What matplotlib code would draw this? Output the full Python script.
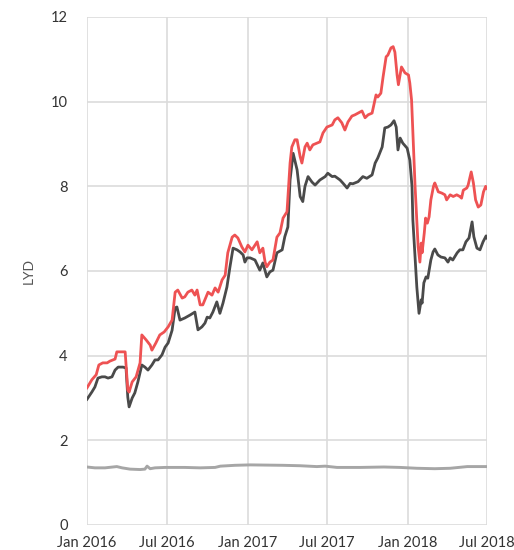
import matplotlib

matplotlib.use("Agg")
import matplotlib.pyplot as plt
import pandas as pd

# values
red_dates = [
    "2016-01-01", "2016-01-12", "2016-01-22", "2016-01-28", "2016-02-06", "2016-02-16",
    "2016-02-22", "2016-03-05", "2016-03-09", "2016-03-28", "2016-04-03", "2016-04-06",
    "2016-04-13", "2016-04-22", "2016-05-01", "2016-05-05", "2016-05-15", "2016-05-24",
    "2016-05-28", "2016-06-06", "2016-06-15", "2016-06-25", "2016-07-04", "2016-07-13",
    "2016-07-20", "2016-07-26", "2016-08-05", "2016-08-11", "2016-08-18", "2016-08-27",
    "2016-09-03", "2016-09-08", "2016-09-15", "2016-09-21", "2016-10-03", "2016-10-12",
    "2016-10-19", "2016-10-26", "2016-11-04", "2016-11-11", "2016-11-17", "2016-11-27",
    "2016-12-03", "2016-12-10", "2016-12-19", "2016-12-26", "2017-01-02", "2017-01-11",
    "2017-01-23", "2017-01-29", "2017-02-05", "2017-02-10", "2017-02-14", "2017-02-21",
    "2017-02-28", "2017-03-09", "2017-03-16", "2017-03-23", "2017-04-01", "2017-04-08",
    "2017-04-12", "2017-04-19", "2017-04-24", "2017-05-01", "2017-05-05", "2017-05-12",
    "2017-05-17", "2017-05-23", "2017-05-30", "2017-06-08", "2017-06-15", "2017-06-22",
    "2017-07-01", "2017-07-13", "2017-07-19", "2017-07-26", "2017-08-04", "2017-08-11",
    "2017-08-18", "2017-08-27", "2017-09-03", "2017-09-10", "2017-09-19", "2017-09-26",
    "2017-10-03", "2017-10-12", "2017-10-21", "2017-10-25", "2017-11-01", "2017-11-06",
    "2017-11-13", "2017-11-17", "2017-11-24", "2017-11-29", "2017-12-03", "2017-12-08",
    "2017-12-11", "2017-12-18", "2017-12-26", "2018-01-03", "2018-01-06", "2018-01-10",
    "2018-01-14", "2018-01-18", "2018-01-22", "2018-01-25", "2018-01-29", "2018-02-01",
    "2018-02-03", "2018-02-08", "2018-02-11", "2018-02-15", "2018-02-19", "2018-02-23",
    "2018-03-01", "2018-03-04", "2018-03-12", "2018-03-20", "2018-03-27", "2018-03-31",
    "2018-04-08", "2018-04-15", "2018-04-23", "2018-04-30", "2018-05-04", "2018-05-08",
    "2018-05-16", "2018-05-19", "2018-05-26", "2018-05-31", "2018-06-05", "2018-06-11",
    "2018-06-17", "2018-06-23", "2018-06-28", "2018-07-01",
]
red_values = [
    3.24, 3.43, 3.55, 3.78, 3.83, 3.83,
    3.87, 3.92, 4.09, 4.09, 3.19, 3.14,
    3.38, 3.50, 3.83, 4.49, 4.37, 4.25,
    4.13, 4.30, 4.49, 4.56, 4.68, 4.84,
    5.50, 5.55, 5.36, 5.39, 5.50, 5.55,
    5.43, 5.55, 5.20, 5.20, 5.50, 5.43,
    5.60, 5.50, 5.79, 5.90, 6.43, 6.80,
    6.85, 6.78, 6.57, 6.45, 6.61, 6.50,
    6.69, 6.43, 6.54, 6.21, 6.10, 6.21,
    6.26, 6.80, 6.90, 7.25, 7.40, 8.55,
    8.93, 9.10, 9.10, 8.70, 8.55, 8.93,
    9.02, 8.86, 8.98, 9.02, 9.05, 9.26,
    9.40, 9.45, 9.57, 9.62, 9.50, 9.33,
    9.52, 9.66, 9.69, 9.73, 9.78, 9.62,
    9.69, 9.73, 10.16, 10.11, 10.20, 10.58,
    11.06, 11.10, 11.27, 11.30, 11.17, 10.63,
    10.40, 10.82, 10.68, 10.63, 10.44, 10.04,
    9.02, 8.00, 7.20, 6.57, 6.21, 6.66,
    6.43, 6.90, 7.25, 7.13, 7.28, 7.68,
    8.00, 8.08, 7.87, 7.84, 7.80, 7.68,
    7.80, 7.76, 7.80, 7.76, 7.72, 7.91,
    7.96, 8.03, 8.34, 8.08, 7.68, 7.51,
    7.56, 7.87, 8.00, 7.95,
]

dark_dates = [
    "2016-01-01", "2016-01-12", "2016-01-19", "2016-01-26", "2016-02-04", "2016-02-11",
    "2016-02-18", "2016-02-27", "2016-03-05", "2016-03-12", "2016-03-23", "2016-03-30",
    "2016-04-03", "2016-04-06", "2016-04-13", "2016-04-19", "2016-04-26", "2016-05-05",
    "2016-05-12", "2016-05-19", "2016-05-28", "2016-06-04", "2016-06-11", "2016-06-20",
    "2016-06-27", "2016-07-04", "2016-07-13", "2016-07-20", "2016-07-24", "2016-07-31",
    "2016-08-11", "2016-08-23", "2016-09-03", "2016-09-10", "2016-09-19", "2016-09-26",
    "2016-10-01", "2016-10-07", "2016-10-14", "2016-10-23", "2016-10-30", "2016-11-06",
    "2016-11-15", "2016-11-22", "2016-11-29", "2016-12-08", "2016-12-15", "2016-12-22",
    "2016-12-26", "2016-12-31", "2017-01-07", "2017-01-18", "2017-01-29", "2017-02-05",
    "2017-02-14", "2017-02-21", "2017-02-28", "2017-03-09", "2017-03-21", "2017-03-27",
    "2017-04-03", "2017-04-08", "2017-04-15", "2017-04-24", "2017-05-01", "2017-05-07",
    "2017-05-12", "2017-05-19", "2017-05-28", "2017-06-04", "2017-06-15", "2017-06-27",
    "2017-07-03", "2017-07-13", "2017-07-19", "2017-07-31", "2017-08-07", "2017-08-16",
    "2017-08-23", "2017-08-29", "2017-09-10", "2017-09-21", "2017-09-30", "2017-10-12",
    "2017-10-19", "2017-10-25", "2017-11-04", "2017-11-10", "2017-11-17", "2017-11-24",
    "2017-12-01", "2017-12-06", "2017-12-10", "2017-12-15", "2017-12-21", "2017-12-31",
    "2018-01-06", "2018-01-11", "2018-01-13", "2018-01-18", "2018-01-22", "2018-01-25",
    "2018-01-27", "2018-02-01", "2018-02-03", "2018-02-07", "2018-02-12", "2018-02-16",
    "2018-02-23", "2018-02-28", "2018-03-04", "2018-03-11", "2018-03-18", "2018-03-27",
    "2018-04-03", "2018-04-08", "2018-04-14", "2018-04-24", "2018-04-30", "2018-05-07",
    "2018-05-14", "2018-05-21", "2018-05-28", "2018-06-01", "2018-06-08", "2018-06-15",
    "2018-06-22", "2018-06-29", "2018-07-01",
]
dark_values = [
    2.97, 3.14, 3.26, 3.47, 3.50, 3.50,
    3.47, 3.50, 3.66, 3.73, 3.73, 3.71,
    3.02, 2.79, 3.00, 3.12, 3.38, 3.78,
    3.73, 3.66, 3.78, 3.90, 3.90, 4.02,
    4.20, 4.30, 4.60, 5.13, 5.15, 4.84,
    4.89, 4.96, 5.03, 4.61, 4.68, 4.77,
    4.91, 4.89, 5.03, 5.27, 5.00, 5.24,
    5.62, 6.10, 6.54, 6.50, 6.45, 6.38,
    6.21, 6.31, 6.31, 6.26, 6.02, 6.19,
    5.86, 5.98, 6.02, 6.43, 6.50, 6.81,
    7.04, 8.15, 8.78, 8.39, 7.76, 7.64,
    8.00, 8.23, 8.10, 8.03, 8.15, 8.23,
    8.31, 8.23, 8.24, 8.15, 8.07, 7.96,
    8.07, 8.06, 8.11, 8.23, 8.19, 8.27,
    8.55, 8.67, 8.93, 9.38, 9.40, 9.45,
    9.55, 9.40, 8.86, 9.14, 9.02, 8.90,
    8.62, 8.00, 7.20, 6.33, 5.62, 5.24,
    5.00, 5.32, 5.24, 5.72, 5.86, 5.83,
    6.26, 6.45, 6.52, 6.38, 6.33, 6.31,
    6.21, 6.31, 6.26, 6.43, 6.50, 6.50,
    6.69, 6.78, 7.16, 6.81, 6.54, 6.50,
    6.69, 6.83, 6.78,
]

light_dates = [
    "2016-01-01", "2016-01-19", "2016-02-11", "2016-03-09", "2016-03-21", "2016-04-08",
    "2016-05-01", "2016-05-12", "2016-05-17", "2016-05-24", "2016-06-04", "2016-06-27",
    "2016-08-11", "2016-09-15", "2016-10-19", "2016-10-31", "2016-12-03", "2017-01-07",
    "2017-03-23", "2017-05-01", "2017-06-08", "2017-06-27", "2017-07-24", "2017-09-15",
    "2017-11-08", "2017-12-15", "2018-01-22", "2018-03-04", "2018-04-08", "2018-05-17",
    "2018-07-01",
]
light_values = [
    1.37, 1.35, 1.35, 1.38, 1.35, 1.32,
    1.31, 1.32, 1.39, 1.33, 1.35, 1.36,
    1.36, 1.35, 1.36, 1.39, 1.41, 1.42,
    1.41, 1.40, 1.38, 1.39, 1.36, 1.36,
    1.37, 1.36, 1.34, 1.33, 1.34, 1.38,
    1.38,
]

tick_dates = ["2016-01-01", "2016-07-01", "2017-01-01", "2017-07-01", "2018-01-01", "2018-07-01"]
tick_labels = ["Jan 2016", "Jul 2016", "Jan 2017", "Jul 2017", "Jan 2018", "Jul 2018"]
y_ticks = [0, 2, 4, 6, 8, 10, 12]

plt.rcParams["font.family"] = ["Lato", "DejaVu Sans"]

fig = plt.figure(figsize=(5.14, 5.5), dpi=100)
ax = fig.add_axes([87 / 514, 25 / 550, 400 / 514, 508 / 550])

ax.plot(pd.to_datetime(light_dates), light_values, color="#a6a6a6", linewidth=2.1,
        solid_joinstyle="round", zorder=3)
ax.plot(pd.to_datetime(dark_dates), dark_values, color="#4a4a4a", linewidth=2.0,
        solid_joinstyle="round", zorder=4)
ax.plot(pd.to_datetime(red_dates), red_values, color="#ee5253", linewidth=2.0,
        solid_joinstyle="round", zorder=5)

ax.set_xlim(pd.Timestamp(tick_dates[0]), pd.Timestamp(tick_dates[-1]))
ax.set_ylim(0, 12)
ax.set_xticks(pd.to_datetime(tick_dates))
ax.set_xticklabels(tick_labels)
ax.set_yticks(y_ticks)

ax.grid(True, color="#dcdcdc", linewidth=1.2)
ax.set_axisbelow(True)
for s in ax.spines.values():
    s.set_visible(False)
ax.tick_params(length=0, labelsize=10.5, labelcolor="#333333")
ax.tick_params(axis="x", pad=8)
ax.tick_params(axis="y", pad=14)
ax.set_ylabel("LYD", fontsize=10, color="#555555")
ax.yaxis.set_label_coords(-0.13, 0.5)

fig.savefig("out.png")
